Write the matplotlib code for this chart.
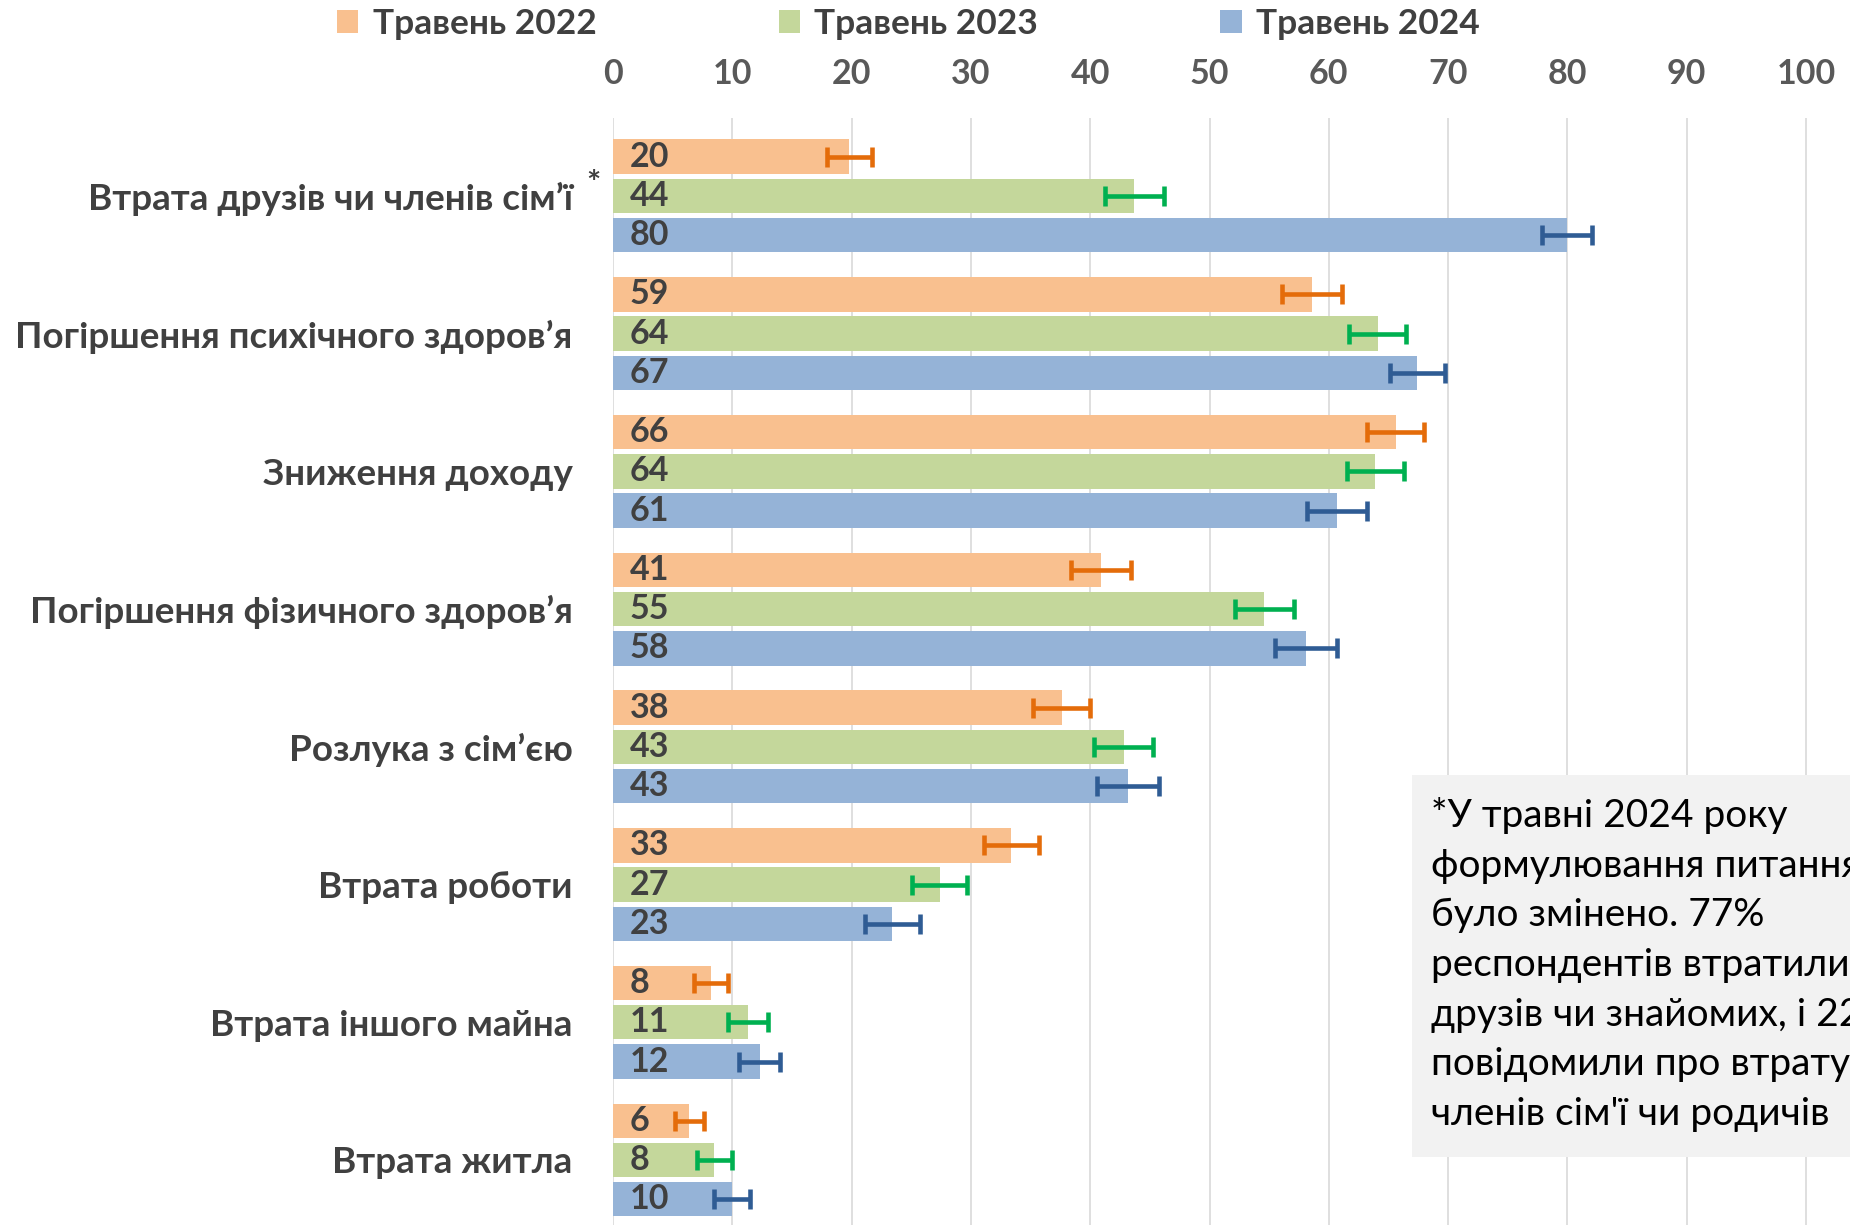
import numpy as np
import matplotlib
matplotlib.use("Agg")
from matplotlib import pyplot as plt
from matplotlib.patches import Patch, Rectangle

categories = ["Втрата друзів чи членів сім’ї",
              "Погіршення психічного здоров’я",
              "Зниження доходу",
              "Погіршення фізичного здоров’я",
              "Розлука з сім’єю",
              "Втрата роботи",
              "Втрата іншого майна",
              "Втрата житла"]
series_names = ["Травень 2022", "Травень 2023", "Травень 2024"]

vals2022 = [19.8, 58.6, 65.6, 40.9, 37.6, 33.4, 8.2, 6.4]
vals2023 = [43.7, 64.1, 63.9, 54.6, 42.8, 27.4, 11.3, 8.5]
vals2024 = [80.0, 67.4, 60.7, 58.1, 43.2, 23.4, 12.3, 10.0]
err2022 = [1.9, 2.5, 2.4, 2.5, 2.4, 2.3, 1.4, 1.2]
err2023 = [2.5, 2.4, 2.4, 2.5, 2.5, 2.3, 1.7, 1.5]
err2024 = [2.1, 2.3, 2.5, 2.6, 2.6, 2.3, 1.7, 1.5]

note = ("*У травні 2024 року\n"
        "формулювання питання\n"
        "було змінено. 77%\n"
        "респондентів втратили\n"
        "друзів чи знайомих, і 22%\n"
        "повідомили про втрату\n"
        "членів сім'ї чи родичів")

bar_colors = ["#F9C08F", "#C4D79B", "#95B3D7"]
err_colors = ["#E46C0A", "#00B050", "#2F5C94"]

plt.rcParams["font.family"] = ["Lato", "DejaVu Sans"]

W, H = 1850, 1225
fig = plt.figure(figsize=(W / 100, H / 100), dpi=100)
ax = fig.add_axes([613 / W, 0, 1 - 613 / W, 1 - 118 / H])

y = np.arange(len(categories))
offsets = [-0.285, 0.0, 0.285]
bar_h = 0.25
all_vals = [vals2022, vals2023, vals2024]
all_errs = [err2022, err2023, err2024]

for k in range(3):
    ax.barh(y + offsets[k], all_vals[k], height=bar_h, color=bar_colors[k], zorder=2)
    ax.errorbar(all_vals[k], y + offsets[k], xerr=all_errs[k], fmt="none",
                ecolor=err_colors[k], elinewidth=3.3, capsize=7, capthick=3.3, zorder=3)
    for yi, v in zip(y + offsets[k], all_vals[k]):
        ax.text(1.4, yi, "%d" % round(v), va="center", ha="left", fontsize=24.5,
                fontweight="bold", color="#404040", zorder=4)

ax.set_xlim(0, (W - 613) / 11.93)
ax.set_ylim(len(categories) - 1 + 0.472, -0.566)
ax.set_xticks(np.arange(0, 101, 10))
ax.xaxis.tick_top()
ax.tick_params(axis="x", length=0, pad=20, labelsize=24.5, labelcolor="#595959")
for t in ax.get_xticklabels():
    t.set_fontweight("bold")
ax.set_yticks(y)
ax.set_yticklabels(categories)
ax.tick_params(axis="y", length=0, pad=29, labelsize=26.5, labelcolor="#404040")
for t in ax.get_yticklabels():
    t.set_fontweight("bold")
ax.grid(axis="x", color="#D9D9D9", linewidth=1.2, zorder=0)
ax.set_axisbelow(True)
for s in ax.spines.values():
    s.set_visible(False)

# asterisk next to first category
fig.text(593 / W, 1 - 184 / H, "*", fontsize=24, fontweight="bold", color="#404040",
         ha="center", va="center")

# footnote box
fig.patches.append(Rectangle((1412 / W, 1 - 1157 / H), (W - 1412) / W, 382 / H,
                             transform=fig.transFigure, facecolor="#F2F2F2",
                             edgecolor="none", zorder=5))
fig.text(1431 / W, 1 - 797 / H, note, fontsize=28, color="#000000", ha="left", va="top",
         linespacing=1.47, zorder=6)

handles = [Patch(facecolor=c) for c in bar_colors]
leg = fig.legend(handles, series_names, loc="center", bbox_to_anchor=(0.491, 1 - 24 / H),
                 ncol=3, frameon=False, handlelength=0.6, handleheight=0.6,
                 handletextpad=0.4, columnspacing=5.15,
                 prop={"weight": "bold", "size": 25.5})
for t in leg.get_texts():
    t.set_color("#404040")

fig.savefig("out.png", dpi=100)
